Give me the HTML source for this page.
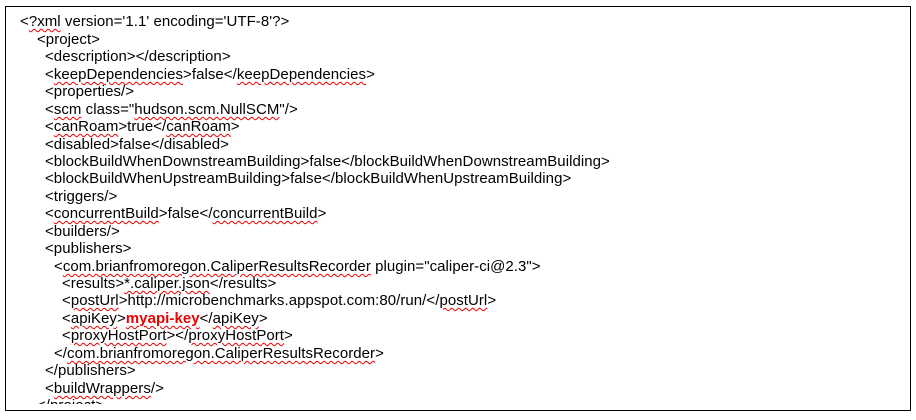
<!DOCTYPE html>
<html><head><meta charset="utf-8"><style>
html,body{margin:0;padding:0;background:#fff;width:916px;height:420px;overflow:hidden}
#box{position:absolute;left:5px;top:6px;width:904px;height:403px;border:1px solid #000;overflow:hidden}
#clip{position:absolute;left:0;top:0;width:904px;height:397px;overflow:hidden}
#in{position:absolute;left:0;top:2px;width:904px;height:420px}
.l{position:absolute;white-space:pre;font:15px "Liberation Sans",Arial,sans-serif;color:#000;line-height:16px;letter-spacing:0.05px}
.s{text-decoration:underline wavy #e00;text-decoration-thickness:1px;text-underline-offset:2px}
.r{color:#e00;font-weight:bold}
</style></head><body>
<div id="box"><div id="clip"><div id="in">
<div class="l" style="left:14px;top:5px">&lt;<span class="s">?xml</span> version='1.1' encoding='UTF-8'?&gt;</div>
<div class="l" style="left:31px;top:23px">&lt;project&gt;</div>
<div class="l" style="left:39px;top:40px">&lt;description&gt;&lt;/description&gt;</div>
<div class="l" style="left:39px;top:58px">&lt;<span class="s">keepDependencies</span>&gt;false&lt;/<span class="s">keepDependencies</span>&gt;</div>
<div class="l" style="left:39px;top:75px">&lt;properties/&gt;</div>
<div class="l" style="left:39px;top:93px">&lt;<span class="s">scm</span> class="<span class="s">hudson.scm.NullSCM</span>"/&gt;</div>
<div class="l" style="left:39px;top:110px">&lt;<span class="s">canRoam</span>&gt;true&lt;/<span class="s">canRoam</span>&gt;</div>
<div class="l" style="left:39px;top:128px">&lt;disabled&gt;false&lt;/disabled&gt;</div>
<div class="l" style="left:39px;top:145px">&lt;blockBuildWhenDownstreamBuilding&gt;false&lt;/blockBuildWhenDownstreamBuilding&gt;</div>
<div class="l" style="left:39px;top:162px">&lt;blockBuildWhenUpstreamBuilding&gt;false&lt;/blockBuildWhenUpstreamBuilding&gt;</div>
<div class="l" style="left:39px;top:180px">&lt;triggers/&gt;</div>
<div class="l" style="left:39px;top:197px">&lt;<span class="s">concurrentBuild</span>&gt;false&lt;/<span class="s">concurrentBuild</span>&gt;</div>
<div class="l" style="left:39px;top:215px">&lt;builders/&gt;</div>
<div class="l" style="left:39px;top:232px">&lt;publishers&gt;</div>
<div class="l" style="left:48px;top:250px">&lt;<span class="s">com.brianfromoregon.CaliperResultsRecorder</span> plugin="caliper-ci@2.3"&gt;</div>
<div class="l" style="left:56px;top:267px">&lt;results&gt;<span class="s">*.caliper.json</span>&lt;/results&gt;</div>
<div class="l" style="left:56px;top:284px">&lt;<span class="s">postUrl</span>&gt;http://microbenchmarks.appspot.com:80/run/&lt;/<span class="s">postUrl</span>&gt;</div>
<div class="l" style="left:56px;top:302px">&lt;<span class="s">apiKey</span>&gt;<span class="r s">myapi-key</span>&lt;/<span class="s">apiKey</span>&gt;</div>
<div class="l" style="left:56px;top:319px">&lt;<span class="s">proxyHostPort</span>&gt;&lt;/<span class="s">proxyHostPort</span>&gt;</div>
<div class="l" style="left:48px;top:337px">&lt;/<span class="s">com.brianfromoregon.CaliperResultsRecorder</span>&gt;</div>
<div class="l" style="left:39px;top:354px">&lt;/publishers&gt;</div>
<div class="l" style="left:39px;top:372px">&lt;<span class="s">buildWrappers</span>/&gt;</div>
<div class="l" style="left:31px;top:389px">&lt;/project&gt;</div>
</div></div></div>
</body></html>
